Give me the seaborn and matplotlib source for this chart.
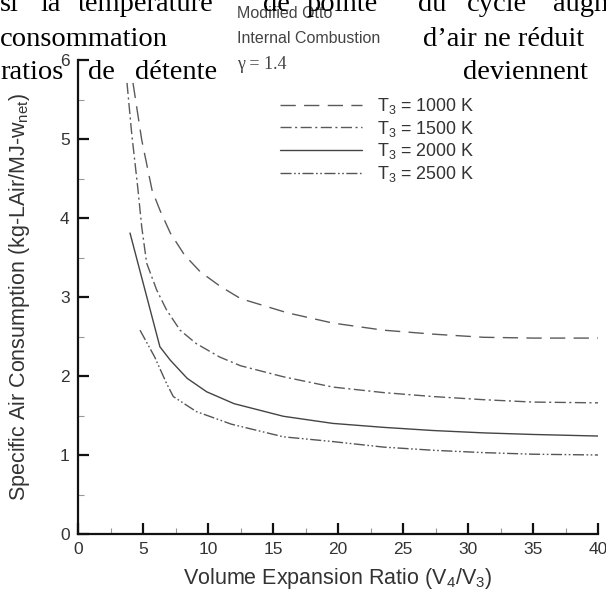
import matplotlib
matplotlib.use("Agg")
import matplotlib.pyplot as plt
import seaborn as sns
import pandas as pd
import numpy as np
from matplotlib.ticker import MultipleLocator

# ---- data ----
labels = ["T$_3$ = 1000 K", "T$_3$ = 1500 K", "T$_3$ = 2000 K", "T$_3$ = 2500 K"]

x_1000 = [4.23, 4.9, 5.7, 6.3, 7.1, 8.2, 9.4, 10.9, 12.5, 16.1, 19.6, 23.5, 27.3, 31.2, 35.0, 40.0]
y_1000 = [5.71, 4.99, 4.35, 4.10, 3.81, 3.53, 3.32, 3.14, 2.98, 2.80, 2.67, 2.58, 2.53, 2.49, 2.48, 2.48]

x_1500 = [3.77, 4.13, 4.6, 4.9, 5.28, 6.05, 6.8, 7.85, 9.1, 10.9, 12.5, 15.8, 19.6, 23.5, 27.3, 31.2, 35.0, 40.0]
y_1500 = [5.71, 5.07, 4.38, 3.89, 3.43, 3.09, 2.84, 2.58, 2.41, 2.24, 2.13, 1.99, 1.86, 1.79, 1.74, 1.70, 1.67, 1.66]

x_2000 = [4.0, 6.3, 7.1, 8.4, 9.9, 12.0, 15.8, 19.6, 23.5, 27.3, 31.2, 35.0, 40.0]
y_2000 = [3.81, 2.37, 2.20, 1.97, 1.80, 1.65, 1.49, 1.40, 1.35, 1.31, 1.28, 1.26, 1.24]

x_2500 = [4.77, 5.9, 6.8, 7.33, 9.1, 11.8, 15.8, 19.6, 23.5, 27.3, 31.2, 35.0, 40.0]
y_2500 = [2.58, 2.24, 1.91, 1.74, 1.55, 1.39, 1.23, 1.17, 1.10, 1.06, 1.03, 1.01, 1.00]

x_ticks = [0, 5, 10, 15, 20, 25, 30, 35, 40]
y_ticks = [0, 1, 2, 3, 4, 5, 6]

title_lines = ["Modified Otto", "Internal Combustion"]
gamma_text = "γ = 1.4"

french_line1 = ["si", "la", "température", "de", "pointe", "du", "cycle", "augmente"]
french_line2 = ["consommation", "d’air ne réduit"]
french_line3 = ["ratios", "de", "détente", "deviennent"]

# ---- build long table ----
frames = []
for lab, xs, ys in zip(labels, [x_1000, x_1500, x_2000, x_2500], [y_1000, y_1500, y_2000, y_2500]):
    frames.append(pd.DataFrame({"ratio": xs, "sac": ys, "T3": lab}))
df = pd.concat(frames, ignore_index=True)

sns.set_style("ticks")
plt.rcParams["font.family"] = ["Liberation Sans", "DejaVu Sans"]
plt.rcParams["mathtext.default"] = "regular"

W, H = 606, 592
fig = plt.figure(figsize=(W / 100, H / 100), dpi=100)
ax = fig.add_axes([78 / W, 1 - 534 / H, 520 / W, 474 / H])

dashes = {
    labels[0]: (11, 6),
    labels[1]: (8, 2.5, 1.5, 2.5),
    labels[2]: "",
    labels[3]: (8, 1.8, 1.2, 1.8, 1.2, 1.8),
}
palette = {labels[0]: "#5a5a5a", labels[1]: "#5a5a5a", labels[2]: "#444444", labels[3]: "#555555"}

sns.lineplot(data=df, x="ratio", y="sac", hue="T3", style="T3", dashes=dashes,
             palette=palette, estimator=None, sort=True, linewidth=1.0, ax=ax, legend=True)

ax.set_xlim(0, 40)
ax.set_ylim(0, 6)
ax.set_xticks(x_ticks)
ax.set_yticks(y_ticks)
ax.xaxis.set_minor_locator(MultipleLocator(2.5))
ax.yaxis.set_minor_locator(MultipleLocator(0.5))
for s in ["top", "right"]:
    ax.spines[s].set_visible(False)
for s in ["left", "bottom"]:
    ax.spines[s].set_linewidth(1.6)
    ax.spines[s].set_color("#111111")
ax.tick_params(which="major", direction="in", length=8, width=1.6, color="#111111",
               labelsize=12.5, labelcolor="#333333")
ax.tick_params(which="minor", direction="in", length=4, width=0.8, color="#999999")
ax.tick_params(axis="y", pad=6)
ax.tick_params(axis="x", pad=6)

ax.set_xlabel("Volume Expansion Ratio (V$_4$/V$_3$)", fontsize=15.5, color="#333333", labelpad=6)
ax.set_ylabel("Specific Air Consumption (kg-LAir/MJ-w$_{net}$)", fontsize=15.5, color="#333333", labelpad=20)

handles, labs = ax.get_legend_handles_labels()
leg = ax.legend(handles, labs, loc="upper left", bbox_to_anchor=(280 / W, 1 - 96 / H),
                bbox_transform=fig.transFigure, frameon=False, fontsize=12.9,
                handlelength=4.6, handletextpad=0.84, labelspacing=0.15, borderpad=0,
                borderaxespad=0)
for t in leg.get_texts():
    t.set_color("#333333")

# chart title texts
fig.text(237 / W, 1 - 18 / H, title_lines[0], fontsize=11.5, color="#444444", va="baseline")
fig.text(237 / W, 1 - 43 / H, title_lines[1], fontsize=11.5, color="#444444", va="baseline")
fig.text(237 / W, 1 - 69 / H, gamma_text, fontsize=13, color="#444444", va="baseline",
         family=["Liberation Serif", "DejaVu Serif"])

# overlaid document text
serif = ["Liberation Serif", "DejaVu Serif"]
fs = 20.5
pos1 = [0, 40, 78, 263, 307, 418, 467, 553]
for w, px in zip(french_line1, pos1):
    fig.text(px / W, 1 - 11 / H, w, fontsize=fs, family=serif, color="black", va="baseline")
pos2 = [0, 423]
for w, px in zip(french_line2, pos2):
    fig.text(px / W, 1 - 46 / H, w, fontsize=fs, family=serif, color="black", va="baseline")
pos3 = [0, 88, 135, 463]
for w, px in zip(french_line3, pos3):
    fig.text(px / W, 1 - 79 / H, w, fontsize=fs, family=serif, color="black", va="baseline")

fig.savefig("out.png", dpi=100)
